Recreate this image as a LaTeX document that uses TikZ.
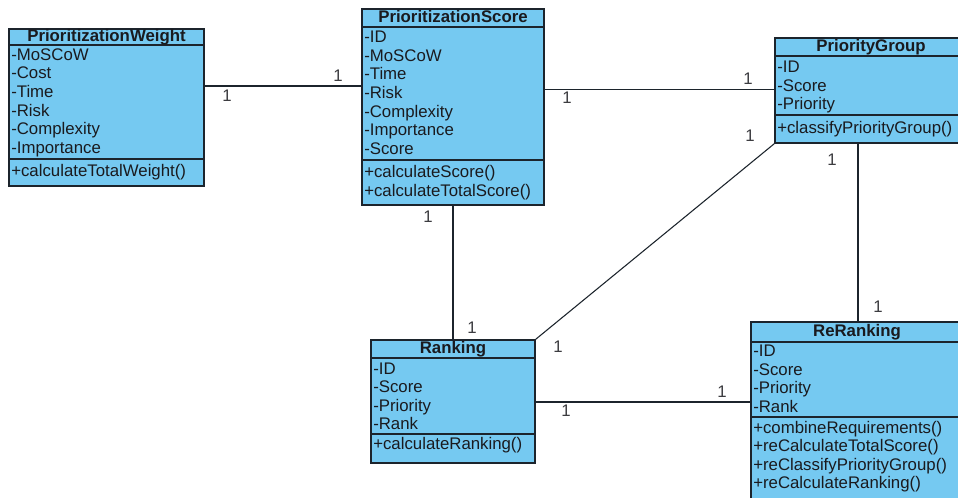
\documentclass[tikz,border=0pt]{standalone}
\usepackage{fontspec}
\setmainfont{Liberation Sans}
\usetikzlibrary{fit}
\definecolor{clsfill}{RGB}{117,201,241}
\definecolor{clsline}{RGB}{28,36,44}
\definecolor{txt}{RGB}{26,26,30}
\tikzset{
  x=0.75pt, y=-0.75pt,
  cls/.style={draw=clsline, fill=clsfill, line width=1.1pt, inner sep=0pt},
  sepline/.style={draw=clsline, line width=0.9pt},
  row/.style={anchor=west, inner sep=0pt, text height=0.72em, text depth=0pt,
    font=\fontsize{12.6pt}{14pt}\selectfont, text=txt},
  title/.style={inner sep=0pt, text height=0.72em, text depth=0pt,
    font=\fontsize{12.6pt}{14pt}\selectfont\bfseries, text=txt},
  assoc/.style={draw=clsline, line width=0.8pt},
  mult/.style={inner sep=0pt, font=\fontsize{12.6pt}{14pt}\selectfont, text=txt!85}
}
\begin{document}
\begin{tikzpicture}
\fill[white] (0,0) rectangle (958,498);
\useasboundingbox (0,0) rectangle (958,498);
\clip (0,0) rectangle (958,498);

% ---------- PrioritizationWeight ----------
\node[cls, fit={(9,29) (204,186)}] (pw) {};
\draw[sepline] (9,45) -- (204,45);
\draw[sepline] (9,159) -- (204,159);
\node[title] (pwt) at (106.5,37) {PrioritizationWeight};
\foreach \t [count=\i from 0] in {-MoSCoW,-Cost,-Time,-Risk,-Complexity,-Importance}
  \node[row] (pwa\i) at (11,55.5+\i*18.6) {\t};
\node[row] (pwm0) at (11,172) {+calculateTotalWeight()};

% ---------- PrioritizationScore ----------
\node[cls, fit={(362,9) (544,205)}] (ps) {};
\draw[sepline] (362,27) -- (544,27);
\draw[sepline] (362,160) -- (544,160);
\node[title] (pst) at (453,17.5) {PrioritizationScore};
\foreach \t [count=\i from 0] in {-ID,-MoSCoW,-Time,-Risk,-Complexity,-Importance,-Score}
  \node[row] (psa\i) at (364,38+\i*18.6) {\t};
\foreach \t [count=\i from 0] in {+calculateScore(),+calculateTotalScore()}
  \node[row] (psm\i) at (364,173+\i*18.8) {\t};

% ---------- PriorityGroup ----------
\node[cls, fit={(775,38) (967,143)}] (pg) {};
\draw[sepline] (775,56) -- (967,56);
\draw[sepline] (775,115) -- (967,115);
\node[title] (pgt) at (871,47) {PriorityGroup};
\foreach \t [count=\i from 0] in {-ID,-Score,-Priority}
  \node[row] (pga\i) at (777,68+\i*18.3) {\t};
\node[row] (pgm0) at (777,128.5) {+classifyPriorityGroup()};

% ---------- Ranking ----------
\node[cls, fit={(371,340) (535,463)}] (rk) {};
\draw[sepline] (371,358) -- (535,358);
\draw[sepline] (371,434) -- (535,434);
\node[title] (rkt) at (453,348.5) {Ranking};
\foreach \t [count=\i from 0] in {-ID,-Score,-Priority,-Rank}
  \node[row] (rka\i) at (373,369.5+\i*18.5) {\t};
\node[row] (rkm0) at (373,445) {+calculateRanking()};

% ---------- ReRanking ----------
\node[cls, fit={(751,322) (963,503)}] (rr) {};
\draw[sepline] (751,342) -- (963,342);
\draw[sepline] (751,417) -- (963,417);
\node[title] (rrt) at (857,331.5) {ReRanking};
\foreach \t [count=\i from 0] in {-ID,-Score,-Priority,-Rank}
  \node[row] (rra\i) at (753,352+\i*18.5) {\t};
\foreach \t [count=\i from 0] in {+combineRequirements(),+reCalculateTotalScore(),+reClassifyPriorityGroup(),+reCalculateRanking()}
  \node[row] (rrm\i) at (753,428.5+\i*18.4) {\t};

% ---------- associations ----------
\coordinate (h1) at (0,86);
\coordinate (h2) at (0,89.5);
\coordinate (h3) at (0,402);
\coordinate (v2) at (858,0);

\draw[assoc] (pw.east |- h1) -- (ps.west |- h1);
\draw[assoc] (ps.east |- h2) -- (pg.west |- h2);
\draw[assoc] (ps.south) -- (ps.south |- rk.north);
\draw[assoc] (pg.south west) -- (rk.north east);
\draw[assoc] (pg.south -| v2) -- (rr.north -| v2);
\draw[assoc] (rk.east |- h3) -- (rr.west |- h3);

% ---------- multiplicities ----------
\node[mult] (m1) at (338,76) {1};
\node[mult] (m2) at (227,96) {1};
\node[mult] (m3) at (748,79) {1};
\node[mult] (m4) at (567,98) {1};
\node[mult] (m5) at (428,217) {1};
\node[mult] (m6) at (472,328) {1};
\node[mult] (m7) at (750,136) {1};
\node[mult] (m8) at (558,347) {1};
\node[mult] (m9) at (832,160) {1};
\node[mult] (m10) at (878,307) {1};
\node[mult] (m11) at (722,392) {1};
\node[mult] (m12) at (566,411) {1};
\end{tikzpicture}
\end{document}
